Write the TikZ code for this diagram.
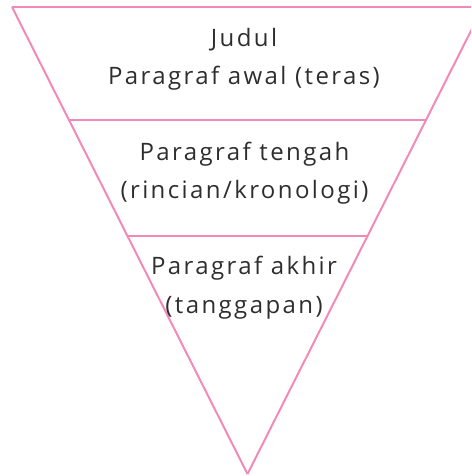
\documentclass[tikz,border=0pt]{standalone}
\usepackage{fontspec}
\setmainfont[LetterSpace=10]{Open Sans}
\definecolor{pinkline}{HTML}{F28AB8}
\definecolor{textgray}{HTML}{2E2E2E}
\tikzset{
	part/.style={align=center, text=textgray, font=\fontsize{24}{38.5}\selectfont}
}
\begin{document}
\begin{tikzpicture}[x=1pt,y=-1pt]
		\useasboundingbox (0,0) rectangle (471,476);
		\clip (0,0) rectangle (471,476);
		\draw[pinkline, line width=2pt] (12,7) -- (483,7);
		\draw[pinkline, line width=2pt] (12,7) -- (247.5,474);
		\draw[pinkline, line width=2pt] (483,7) -- (247.5,474);
		\draw[pinkline, line width=2pt] (69.1,120.5) -- (425.9,120.5);
		\draw[pinkline, line width=2pt] (127,235.5) -- (368,235.5);
		\node[part] (awal) at (244,59.4) {Judul\\Paragraf awal (teras)};
		\node[part] (tengah) at (244.5,173) {Paragraf tengah\\(rincian/kronologi)};
		\node[part] (akhir) at (244,287.5) {Paragraf akhir\\(tanggapan)};
	\end{tikzpicture}
\end{document}
